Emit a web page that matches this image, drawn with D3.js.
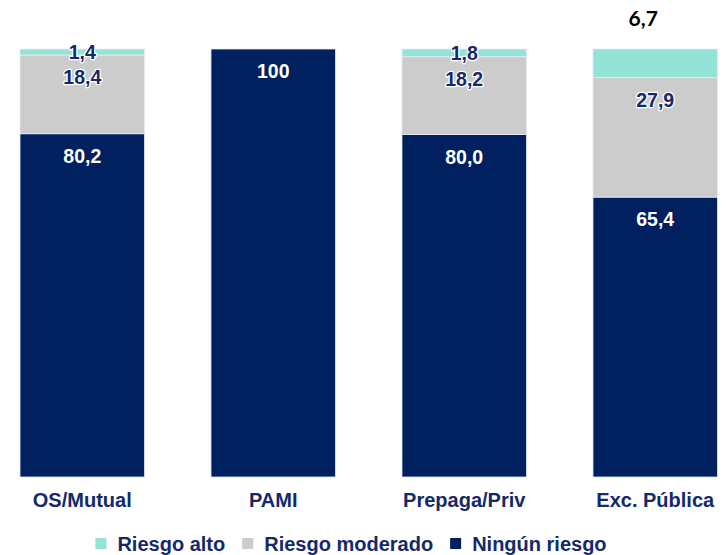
<!DOCTYPE html>
<html><head><meta charset="utf-8">
<script src="https://cdn.jsdelivr.net/npm/d3@7"></script>
<style>body{margin:0;background:#fff}svg{display:block}</style>
</head><body>
<svg id="chart" width="727" height="555"></svg>
<script>
const categories = ["OS/Mutual", "PAMI", "Prepaga/Priv", "Exc. Pública"];
const ningunRiesgo = [80.2, 100, 80.0, 65.4];
const riesgoModerado = [18.4, 0, 18.2, 27.9];
const riesgoAlto = [1.4, 0, 1.8, 6.7];
const seriesNames = ["Ningún riesgo", "Riesgo moderado", "Riesgo alto"];
const legendOrder = ["Riesgo alto", "Riesgo moderado", "Ningún riesgo"];
const colors = {"Ningún riesgo": "#002060", "Riesgo moderado": "#cccccc", "Riesgo alto": "#93e3d7"};
const labelColors = {"Ningún riesgo": "#ffffff", "Riesgo moderado": "#14296b", "Riesgo alto": "#14296b"};

const rows = categories.map((c, i) => ({
  cat: c,
  "Ningún riesgo": ningunRiesgo[i],
  "Riesgo moderado": riesgoModerado[i],
  "Riesgo alto": riesgoAlto[i]
}));

const svg = d3.select("#chart");
const x = d3.scaleBand().domain(categories).range([20, 717.5]).paddingInner(0.348).paddingOuter(0);
const y = d3.scaleLinear().domain([0, 100]).range([477, 49]);

const stack = d3.stack().keys(seriesNames)(rows);
const fmt = v => d3.format(".1f")(v).replace(".", ",");

const g = svg.append("g");
stack.forEach(layer => {
  const key = layer.key;
  g.selectAll(null).data(layer.filter(d => d[1] - d[0] > 0)).join("rect")
    .attr("x", d => x(d.data.cat))
    .attr("width", x.bandwidth())
    .attr("y", d => y(d[1]))
    .attr("height", d => y(d[0]) - y(d[1]))
    .attr("fill", colors[key])
    .attr("stroke", "#e6ebf3")
    .attr("stroke-width", 0.8);
});

// value labels
stack.forEach(layer => {
  const key = layer.key;
  layer.forEach(d => {
    const v = d[1] - d[0];
    if (v <= 0) return;
    const top = y(d[1]), bot = y(d[0]);
    const h = bot - top;
    const cx = x(d.data.cat) + x.bandwidth() / 2;
    const label = v === 100 ? "100" : fmt(v);
    if (key === "Riesgo alto" && v > 5) {
      svg.append("text").attr("x", cx - 12).attr("y", top - 23)
        .attr("text-anchor", "middle")
        .attr("font-family", "Lato, 'Open Sans', sans-serif").attr("font-weight", 700)
        .attr("font-size", 21).attr("fill", "#000").text(label);
      return;
    }
    const t = svg.append("text").attr("x", cx)
      .attr("text-anchor", "middle")
      .attr("font-family", "Liberation Sans, Arial, sans-serif").attr("font-weight", 700)
      .attr("font-size", 19.5).attr("fill", labelColors[key]).text(label);
    if (h < 20) t.attr("y", (top + bot) / 2 + 7);
    else t.attr("y", top + 29);
    if (key !== "Ningún riesgo") {
      t.attr("stroke", "#fff").attr("stroke-width", 2.5).attr("paint-order", "stroke").attr("stroke-linejoin", "round");
    }
  });
});

// category axis labels
svg.append("g").selectAll("text").data(categories).join("text")
  .attr("x", d => x(d) + x.bandwidth() / 2)
  .attr("y", 507)
  .attr("text-anchor", "middle")
  .attr("font-family", "Liberation Sans, Arial, sans-serif").attr("font-weight", 700)
  .attr("font-size", 20).attr("fill", "#14296b")
  .text(d => d);

// legend
const leg = svg.append("g");
let cursor = 0;
const items = [];
legendOrder.forEach((name, i) => {
  const it = leg.append("g");
  it.append("rect").attr("x", cursor).attr("y", 538).attr("width", 11).attr("height", 11).attr("fill", colors[name]);
  const t = it.append("text").attr("x", cursor + 22).attr("y", 551)
    .attr("font-family", "Liberation Sans, Arial, sans-serif").attr("font-weight", 700)
    .attr("font-size", 20).attr("fill", "#14296b").text(name);
  cursor += 22 + t.node().getComputedTextLength() + 17;
});
const total = cursor - 17;
leg.attr("transform", `translate(${351 - total / 2},0)`);
</script>
</body></html>
